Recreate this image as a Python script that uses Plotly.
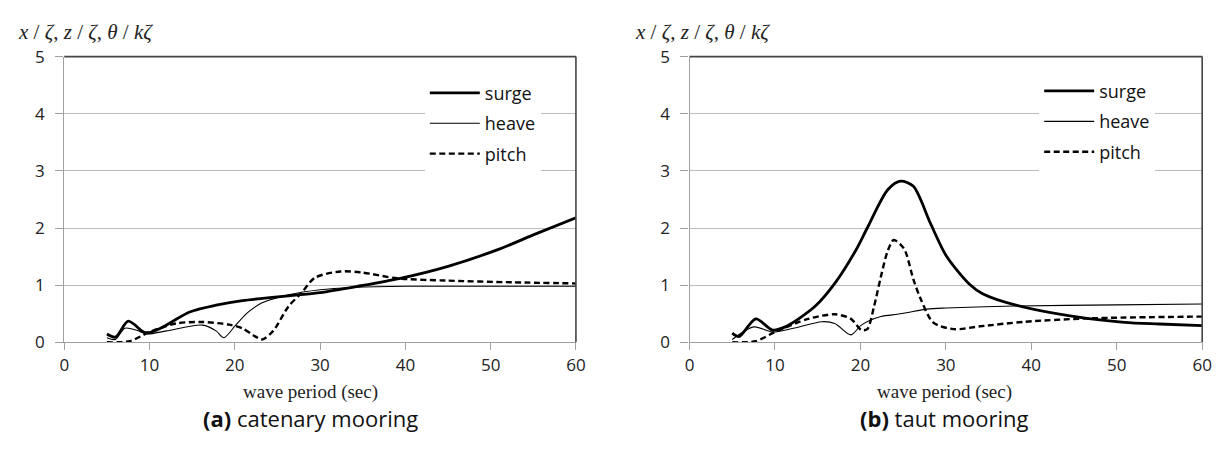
import plotly.graph_objects as go

W, H = 1226, 452

# ---- data: (a) catenary mooring ----
a_surge_T = [5, 6, 7.5, 9.3, 10, 11.6, 14.7, 17.8, 20.9, 24.7, 27.4, 30, 34.4, 39.4, 45, 51, 55, 60]
a_surge_v = [0.145, 0.09, 0.37, 0.18, 0.17, 0.27, 0.53, 0.65, 0.73, 0.79, 0.83, 0.87, 0.98, 1.12, 1.33, 1.63, 1.88, 2.18]

a_heave_T = [5, 6, 7.1, 8.5, 9.7, 12, 16.2, 17.8, 18.7, 20.1, 21.5, 23.2, 26.3, 30, 34, 40, 50, 60]
a_heave_v = [0.08, 0.05, 0.245, 0.21, 0.145, 0.20, 0.30, 0.20, 0.08, 0.30, 0.52, 0.69, 0.83, 0.92, 0.96, 0.98, 0.98, 0.98]

a_pitch_T = [5, 7.7, 10, 13.1, 16.2, 19.3, 20.9, 22.2, 23.2, 24.5, 26.3, 27.8, 29.4, 32.4, 35, 39, 44.8, 52.5, 60]
a_pitch_v = [0.0, 0.02, 0.18, 0.33, 0.355, 0.31, 0.245, 0.12, 0.05, 0.20, 0.63, 0.86, 1.13, 1.24, 1.22, 1.12, 1.08, 1.05, 1.03]

# ---- data: (b) taut mooring ----
b_surge_T = [5, 5.8, 7.75, 9.7, 11.2, 14.7, 17, 19.5, 20.8, 23.2, 24.7, 26.2, 28.2, 30.1, 32.8, 34.3, 38.2, 45.5, 50.9, 55, 60]
b_surge_v = [0.16, 0.10, 0.41, 0.215, 0.27, 0.63, 1.03, 1.62, 2.00, 2.67, 2.82, 2.73, 2.08, 1.50, 1.01, 0.85, 0.65, 0.44, 0.35, 0.32, 0.29]

b_heave_T = [5, 7.55, 9.7, 12, 15.5, 17, 18.9, 20.1, 22.4, 24.3, 25.5, 27.8, 30, 38, 50, 60]
b_heave_v = [0.05, 0.27, 0.18, 0.24, 0.36, 0.33, 0.13, 0.30, 0.45, 0.49, 0.52, 0.58, 0.60, 0.635, 0.655, 0.67]

b_pitch_T = [5, 7.75, 10, 13.9, 17, 18.9, 20.1, 20.8, 21.6, 22.4, 23.2, 23.9, 25.1, 26.2, 27, 28.5, 30.9, 34, 39.3, 47, 60]
b_pitch_v = [0.0, 0.02, 0.18, 0.41, 0.49, 0.41, 0.215, 0.23, 0.63, 1.15, 1.60, 1.79, 1.64, 1.10, 0.78, 0.35, 0.23, 0.28, 0.36, 0.42, 0.45]

series_names = ["surge", "heave", "pitch"]
x_ticks = [0, 10, 20, 30, 40, 50, 60]
y_ticks = [0, 1, 2, 3, 4, 5]

# ---- layout geometry (pixels) ----
def px_x(p):
    return p / W

def px_y(p):
    return 1 - p / H

styles = {
    "surge": dict(color="black", width=2.8),
    "heave": dict(color="black", width=1.1),
    "pitch": dict(color="black", width=2.4, dash="6px,3.5px"),
}

fig = go.Figure()

panels = [
    ("x", "y", "legend", "a", [(a_surge_T, a_surge_v), (a_heave_T, a_heave_v), (a_pitch_T, a_pitch_v)]),
    ("x2", "y2", "legend2", "b", [(b_surge_T, b_surge_v), (b_heave_T, b_heave_v), (b_pitch_T, b_pitch_v)]),
]
for xa, ya, lg, tag, data in panels:
    for name, (t, v) in zip(series_names, data):
        fig.add_trace(go.Scatter(
            x=t, y=v, name=name, mode="lines", line=dict(shape="spline", smoothing=0.8, **styles[name]),
            xaxis=xa, yaxis=ya, legend=lg, legendgroup=tag + name, showlegend=True,
        ))

sans = "Open Sans, Lato, sans-serif"
tick_font = dict(family=sans, size=17, color="#222")
axis_common = dict(
    showgrid=False, zeroline=False, showline=True, linecolor="#a0a0a0", linewidth=1.3,
    ticks="outside", tickcolor="#a0a0a0", tickwidth=1.2, tickfont=tick_font, fixedrange=True,
)
x_common = dict(axis_common, ticklen=7, range=[0, 60], tickvals=x_ticks)
y_common = dict(axis_common, ticklen=8, ticklabelstandoff=7, range=[0, 5], tickvals=y_ticks,
                showgrid=True, gridcolor="#bcbcbc", gridwidth=1.3)

left_dom = [px_x(60), px_x(578)]
right_dom = [px_x(693), px_x(1212)]
ydom = [px_y(348), px_y(47)]

legend_font = dict(family=sans, size=18, color="#111")
fig.update_layout(
    width=W, height=H, margin=dict(l=0, r=0, t=0, b=0),
    paper_bgcolor="white", plot_bgcolor="white",
    xaxis=dict(x_common, domain=left_dom, anchor="y"),
    yaxis=dict(y_common, domain=ydom, anchor="x"),
    xaxis2=dict(x_common, domain=right_dom, anchor="y2"),
    yaxis2=dict(y_common, domain=ydom, anchor="x2"),
    legend=dict(x=px_x(425), y=px_y(66), xanchor="left", yanchor="top", bgcolor="white",
                font=legend_font, tracegroupgap=4, itemwidth=50),
    legend2=dict(x=px_x(1047), y=px_y(64), xanchor="left", yanchor="top", bgcolor="white",
                 font=legend_font, tracegroupgap=4, itemwidth=50),
    showlegend=True,
)

# darker top and right frame lines
for xa, ya in [("x", "y"), ("x2", "y2")]:
    fig.add_shape(type="line", xref=f"{xa} domain", yref=f"{ya} domain", x0=0, x1=1, y0=1, y1=1,
                  line=dict(color="#444", width=1.6))
    fig.add_shape(type="line", xref=f"{xa} domain", yref=f"{ya} domain", x0=1, x1=1, y0=0, y1=1,
                  line=dict(color="#444", width=1.6))

ylabel = "<i>x</i> / <i>ζ</i>, <i>z</i> / <i>ζ</i>, <i>θ</i> / <i>kζ</i>"
serif = "Liberation Serif, Times New Roman, serif"
for xpix in [11, 636]:
    fig.add_annotation(text=ylabel, xref="paper", yref="paper", x=px_x(xpix), y=px_y(21),
                       xanchor="left", yanchor="middle", showarrow=False,
                       font=dict(family=serif, size=21, color="#222"))

for cx, sub in [(309, "<b>(a)</b> catenary mooring"), (951, "<b>(b)</b> taut mooring")]:
    fig.add_annotation(text="wave period (sec)", xref="paper", yref="paper", x=px_x(cx), y=px_y(400),
                       xanchor="center", yanchor="middle", showarrow=False,
                       font=dict(family=serif, size=19, color="#222"))
    fig.add_annotation(text=sub, xref="paper", yref="paper", x=px_x(cx), y=px_y(428),
                       xanchor="center", yanchor="middle", showarrow=False,
                       font=dict(family=sans, size=22, color="#111"))

fig.write_html("out.html", post_script="document.body.style.margin='0';",
               config={"displayModeBar": False})
